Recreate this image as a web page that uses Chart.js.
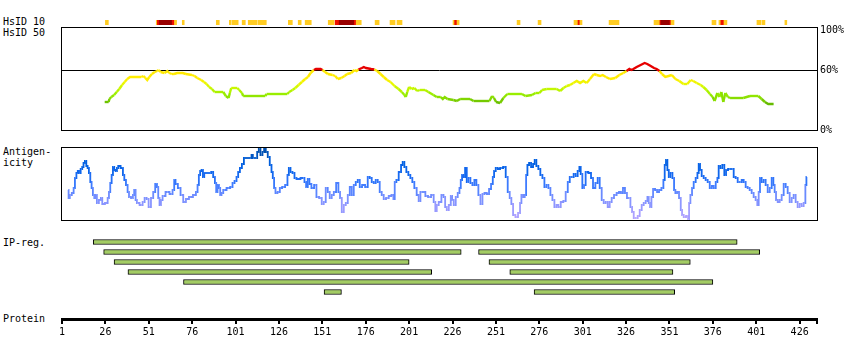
<!DOCTYPE html>
<html>
<head>
<meta charset="utf-8">
<script src="https://cdn.jsdelivr.net/npm/chart.js@4.4.1/dist/chart.umd.min.js"></script>
<style>
	body { margin: 0; background: #fff; }
	#wrap { position: relative; width: 850px; height: 360px; overflow: hidden; }
	canvas { position: absolute; left: 0; }
	.lbl { position: absolute; left: 3px; font: 10px "DejaVu Sans Mono", monospace; line-height: 12px; color: #000; white-space: pre; }
</style>
</head>
<body>
<div id="wrap">
	<div class="lbl" style="top:16px">HsID 10</div>
	<div class="lbl" style="top:27px">HsID 50</div>
	<div class="lbl" style="top:146px">Antigen-</div>
	<div class="lbl" style="top:157px">icity</div>
	<div class="lbl" style="top:237px">IP-reg.</div>
	<div class="lbl" style="top:313px">Protein</div>
	<canvas id="hs10" width="850" height="12" style="top:16px"></canvas>
	<canvas id="hs50" width="850" height="122" style="top:18px"></canvas>
	<canvas id="anti" width="850" height="88" style="top:140px"></canvas>
	<canvas id="ipreg" width="850" height="70" style="top:232px"></canvas>
	<canvas id="prot" width="850" height="50" style="top:290px"></canvas>
</div>
<script>
// protein residue range
const xMin = 1;
const xMax = 436;
const axisTicks = [1, 26, 51, 76, 101, 126, 151, 176, 201, 226, 251, 276, 301, 326, 351, 376, 401, 426];
const pctTicks = [0, 60, 100];
const threshold = 60;

// HsID 10 strip: residue ranges and level (1 = low, 2 = high, 3 = very high)
const hs10Start = [26, 55.3, 55.9, 57, 64.5, 65.8, 70.3, 89.9, 97.4, 99.1, 104.8, 108.3, 114.1, 131.4, 137.1, 141.1, 154.4, 158.4, 160.7, 169.4, 170.5, 181.4, 190, 194, 226.3, 227.2, 228.6, 263.2, 275.3, 296, 298.3, 299.4, 316.2, 342.1, 345.5, 346.1, 351.3, 351.9, 375.5, 379.5, 380.6, 382.4, 401.4, 404.3, 417.5];
const hs10End = [27.7, 55.9, 57, 64.5, 65.8, 67, 71.4, 91.6, 98.5, 102.5, 106.6, 113.5, 118.7, 133.7, 138.8, 144.6, 157.8, 160.7, 169.4, 170.5, 173.4, 183.7, 192.9, 196.9, 227.2, 228.6, 229.8, 264.9, 277, 298.3, 299.4, 300.6, 321.9, 345.5, 346.1, 351.3, 351.9, 353.6, 377.8, 380.6, 382.4, 384.1, 403.7, 406, 418.6];
const hs10Level = [1, 1, 2, 3, 2, 1, 1, 1, 1, 1, 1, 1, 1, 1, 1, 1, 1, 2, 3, 2, 1, 1, 1, 1, 1, 2, 1, 1, 1, 1, 2, 1, 1, 1, 2, 3, 2, 1, 1, 1, 2, 1, 1, 1, 1];

// HsID 50 identity (%)
const hs50Pos = [25.6, 27.9, 28.3, 29.4, 31, 32.5, 34, 35.6, 37.1, 38.6, 40.2, 46.7, 48, 49, 50.1, 51.3, 52.8, 54.4, 55.9, 56.7, 57.8, 60.1, 61.7, 62.8, 64.3, 65.5, 67.4, 70.5, 72.4, 75.9, 77.4, 78.9, 81.2, 82.8, 84.3, 85.8, 87.4, 88.9, 92.4, 93.9, 95.4, 97, 97.7, 98.5, 102, 103.1, 104.7, 105.4, 118.1, 118.9, 130.8, 131.9, 133.8, 135.4, 137.3, 139.2, 141.1, 142.7, 144.2, 146.1, 147.3, 150, 151.1, 152.6, 154.2, 156.9, 158.4, 159.9, 161.9, 163.8, 165.3, 167.6, 169.5, 170.7, 171.8, 173.8, 174.9, 176.1, 179.1, 181, 182.6, 184.5, 186.4, 188.3, 190.3, 192.6, 194.9, 196.8, 198.3, 199.1, 199.9, 201, 202.5, 204.1, 205.6, 207.1, 210.2, 212.1, 215, 216.9, 219.2, 220.4, 221.5, 223.1, 226.5, 228.5, 230.4, 236.1, 238.1, 247.3, 248.8, 249.9, 251.1, 253.4, 255.3, 257.6, 266, 268, 271.8, 273.8, 276.1, 277.6, 280.3, 286, 288, 289.9, 291.8, 293.7, 295.6, 297.6, 299.5, 301.4, 303.3, 305.2, 307.5, 309.1, 311, 312.5, 314.4, 316.7, 319.8, 322.1, 324.4, 326.3, 327.9, 329, 330.2, 332.1, 334.4, 336.7, 338.2, 340.2, 342.1, 343.6, 345.2, 346.7, 348.6, 350.5, 352.4, 354.4, 356.7, 359, 361.3, 363.2, 364.7, 366.7, 369, 370.5, 372.4, 374.3, 375.9, 377, 378.6, 379.7, 380.9, 382, 383.2, 384.7, 385.9, 393.5, 397.4, 402.2, 404.1, 406, 407.9, 411];
const hs50Val = [28, 28, 31, 33, 35, 38, 41, 45, 48, 51, 53, 53, 54, 52, 50, 53, 56, 58, 59, 60, 58, 57, 59, 57, 56, 56, 57, 57, 56, 55, 54, 52, 50, 48, 46, 43, 41, 38, 38, 38, 34, 32, 37, 42, 42, 40, 37, 34, 34, 36, 36, 38, 40, 42, 45, 48, 51, 53, 57, 60, 61, 61, 60, 58, 56, 55, 54, 51, 52, 54, 56, 57, 60, 59, 60.5, 62, 63, 62, 61, 60.5, 59, 56, 53, 50, 48, 44, 41, 38, 35, 33, 38, 43, 41, 42, 39, 40, 40, 38, 35, 33, 33, 31, 33, 31, 30, 29, 31, 31, 29, 29, 34, 32, 28, 27, 32, 36, 36, 34, 35, 37, 37, 40, 41, 41, 39, 42, 44, 45, 47, 49, 47, 49, 47, 51, 56, 55, 54, 55, 53, 51, 52, 55, 57, 59, 61, 60, 61, 63, 65, 67, 66, 64, 62, 61, 59, 56, 53, 54, 55, 51, 49, 46, 46, 50, 49, 47, 45, 43, 40, 36, 33, 29, 37, 33, 38, 28, 37, 33, 32, 32, 34, 34, 31, 28, 26, 26];

// antigenicity score
const antiPos = [4.6, 5, 6, 7.3, 8.1, 8.8, 9.8, 10.4, 11.2, 12.3, 13, 13.8, 14.6, 15.4, 16.1, 16.9, 17.7, 18.4, 19.2, 20, 20.7, 21.5, 23, 23.8, 24.6, 26.9, 27.7, 28.4, 29.2, 30, 30.7, 31.5, 32.3, 33, 33.8, 35.7, 36.5, 37.3, 38.4, 39.2, 40, 41.5, 42.2, 43, 43.8, 44.5, 46.9, 48, 49.2, 50.3, 51.5, 53, 54.1, 55.3, 56.1, 56.8, 57.6, 58.4, 59.5, 61.8, 64.1, 65.3, 66, 66.8, 68.7, 69.9, 71.8, 73, 75.3, 77.6, 78.7, 79.5, 80.2, 81, 81.8, 82.6, 83.3, 86.4, 87.5, 88.7, 89.5, 90.2, 91, 91.8, 92.5, 93.3, 94.5, 97.1, 98.7, 99.8, 101, 102.1, 102.9, 104.1, 105.2, 106.4, 108.7, 109.8, 110.6, 111.3, 112.9, 114, 114.8, 115.9, 117.1, 117.8, 119, 120.1, 121.3, 122.1, 122.8, 123.6, 124.4, 125.9, 127.1, 128.6, 130.5, 131.3, 132.1, 133.2, 134.4, 135.5, 136.7, 140.1, 141.3, 142, 143.2, 143.9, 145.5, 147, 148.2, 150.1, 151.2, 152.4, 153.5, 154.7, 155.8, 157, 158.2, 159.7, 160.8, 161.6, 162.8, 163.9, 165.1, 166.2, 167.4, 168.5, 169.7, 170.8, 172, 173.1, 174.7, 176.6, 177.7, 178.9, 180, 181.2, 182.3, 183.5, 184.6, 185.8, 186.9, 188.5, 190, 191.6, 192.3, 193.1, 194.2, 195.8, 196.9, 197.7, 198.8, 200, 201.1, 202.3, 203.4, 204.6, 206.1, 206.9, 208.1, 209.6, 211.1, 212.7, 214.6, 215.7, 216.5, 217.3, 218.8, 220.4, 221.2, 222.3, 223.1, 224.6, 225.4, 226.1, 227.3, 228.4, 229.6, 230.4, 231.1, 231.9, 232.7, 233.8, 234.6, 235.7, 236.9, 238, 239.2, 240.3, 241.5, 242.7, 243.8, 245, 246.5, 247.6, 248.8, 249.6, 250.3, 251.5, 252.6, 254.2, 256.1, 257.2, 258.4, 259.5, 260.3, 261.5, 263, 264.5, 265.3, 266.1, 267.2, 268, 268.8, 269.5, 270.7, 271.8, 273, 273.7, 274.9, 276, 277.2, 278.4, 279.5, 280.7, 281.8, 283, 284.1, 285.3, 286.4, 287.6, 289.1, 290.6, 291.8, 293, 294.1, 295.2, 296.4, 297.5, 298.7, 299.5, 300.2, 301.4, 302.1, 303.3, 305.2, 306.4, 307.5, 309.1, 310.2, 311.4, 312.5, 313.7, 314.8, 316, 317.1, 318.3, 319.8, 321.3, 322.5, 323.6, 324.8, 325.9, 327.1, 327.9, 329.1, 329.8, 331, 332.1, 333.3, 334.4, 335.6, 336.7, 337.9, 338.7, 339.4, 340.2, 341, 342.1, 343.3, 344.4, 345.6, 347.1, 347.9, 348.6, 349.4, 350.2, 351, 352.1, 353.3, 354, 354.8, 355.9, 357.1, 357.9, 358.6, 359.8, 361.3, 362.1, 362.5, 363.6, 364.4, 365.5, 366.7, 367.5, 368.2, 369, 370.1, 371.3, 372.4, 373.6, 374.8, 375.9, 377.1, 378.2, 379, 379.7, 380.9, 382, 383.2, 384, 385.5, 387.4, 388.6, 389.7, 390.9, 392, 393.2, 394.3, 395.5, 396.6, 397.8, 398.9, 400.1, 401.2, 402, 402.8, 403.5, 404.7, 405.8, 407, 408.2, 409.3, 410.5, 411.2, 412, 412.8, 413.9, 415.1, 416.2, 417.4, 418.5, 419.7, 420.8, 422, 423.1, 424.3, 425.4, 426.6, 427.7, 428.9, 429.7, 430.1];
const antiVal = [30, 22, 25, 27, 32, 42, 47, 49, 47, 51, 53, 57, 59, 54, 52, 47, 38, 32, 25, 22, 25, 17, 20, 22, 16, 17, 22, 28, 37, 45, 53, 50, 49, 52, 54, 52, 45, 40, 35, 28, 23, 22, 25, 30, 20, 17, 15, 18, 22, 21, 13, 22, 28, 36, 33, 22, 15, 20, 24, 28, 26, 30, 40, 36, 32, 25, 18, 21, 23, 25, 28, 35, 45, 49, 50, 43, 47, 47, 48, 43, 37, 28, 35, 32, 25, 27, 30, 32, 33, 37, 39, 43, 48, 52, 56, 62, 62, 62, 65, 62, 62, 68, 71, 65, 68, 71, 68, 63, 55, 48, 42, 32, 27, 28, 32, 33, 35, 45, 52, 48, 47, 42, 41, 42, 38, 33, 41, 36, 32, 35, 23, 22, 16, 18, 32, 28, 22, 25, 28, 37, 28, 22, 8, 15, 17, 25, 33, 25, 35, 38, 40, 33, 35, 33, 43, 42, 38, 37, 40, 38, 28, 25, 21, 22, 24, 25, 21, 38, 40, 48, 55, 58, 53, 48, 45, 42, 38, 32, 25, 19, 28, 28, 24, 23, 25, 18, 9, 15, 18, 25, 23, 13, 10, 15, 24, 20, 15, 23, 27, 32, 40, 45, 43, 52, 38, 42, 37, 35, 40, 35, 25, 16, 26, 27, 26, 31, 36, 43, 49, 52, 51, 52, 53, 43, 28, 22, 16, 5, 3, 7, 17, 25, 23, 25, 45, 55, 57, 53, 56, 60, 54, 51, 45, 42, 33, 35, 32, 25, 20, 13, 15, 13, 18, 19, 28, 38, 43, 43, 46, 44, 49, 53, 46, 32, 35, 48, 47, 42, 32, 37, 42, 32, 20, 17, 18, 13, 18, 22, 25, 27, 28, 27, 32, 27, 22, 22, 13, 8, 2, 2, 4, 10, 15, 17, 19, 23, 17, 13, 23, 31, 30, 28, 30, 32, 40, 55, 60, 50, 43, 47, 42, 30, 27, 28, 22, 10, 5, 3, 4, 1, 17, 25, 32, 38, 42, 47, 56, 50, 44, 42, 40, 38, 32, 34, 32, 38, 42, 54, 52, 55, 45, 50, 51, 51, 43, 42, 38, 38, 40, 38, 33, 32, 30, 27, 23, 20, 15, 28, 42, 38, 40, 35, 28, 32, 42, 35, 28, 20, 18, 20, 25, 36, 33, 27, 18, 22, 25, 18, 13, 16, 14, 17, 35, 43];
const antiMin = 0;
const antiMax = 72;

// IP regions: row, start and end residue
const ipRows = ["r1", "r2", "r3", "r4", "r5", "r6"];
const ipRow = ["r1", "r2", "r2", "r3", "r3", "r4", "r4", "r5", "r6", "r6"];
const ipStart = [19, 25, 241, 31, 247, 39, 259, 71, 152, 273];
const ipEnd = [390, 231, 403, 201, 363, 214, 353, 376, 162, 354];

Chart.defaults.font.family = "'DejaVu Sans Mono', monospace";
Chart.defaults.font.size = 10;
Chart.defaults.color = "#000";
Chart.defaults.animation = false;
Chart.defaults.responsive = false;
Chart.defaults.plugins.legend.display = false;
Chart.defaults.plugins.tooltip.enabled = false;

const levelCol = ["", "#ffcc22", "#ee1100", "#990000"];

const hexLerp = (stops, v) => {
	if (v <= stops[0][0]) { return stops[0][1]; }
	for (let i = 1; i < stops.length; i++) {
		if (v <= stops[i][0]) {
			let [v0, c0] = stops[i - 1];
			let [v1, c1] = stops[i];
			let t = (v - v0) / (v1 - v0);
			let a = [1, 3, 5].map(k => parseInt(c0.substr(k, 2), 16));
			let b = [1, 3, 5].map(k => parseInt(c1.substr(k, 2), 16));
			return "rgb(" + a.map((x, j) => Math.round(x + (b[j] - x) * t)).join(",") + ")";
		}
	}
	return stops[stops.length - 1][1];
};

const hsStops = [[27, "#66bb00"], [32, "#88dd00"], [36, "#99ee00"], [41, "#c4f700"], [46, "#e8f800"], [51, "#ffee00"], [59.9, "#ffe800"]];
const hsColor = v => v >= threshold ? "#e60000" : hexLerp(hsStops, v);

const antiStops = [[2, "#b4a4ff"], [15, "#9298ff"], [25, "#6e8cff"], [35, "#3f7cff"], [45, "#1468f0"], [58, "#0060e0"], [68, "#0050b0"]];
const antiColor = v => hexLerp(antiStops, v);

// thin box round the plot area
const frame = {
	id: "frame",
	afterDraw(chart) {
		let a = chart.chartArea;
		let c = chart.ctx;
		c.save();
		c.strokeStyle = "#000";
		c.lineWidth = 1;
		c.strokeRect(a.left - 0.5, a.top - 0.5, a.right - a.left + 1, a.bottom - a.top + 1);
		c.restore();
	}
};

const xHidden = { type: "linear", min: xMin, max: xMax, display: false };

// HsID 10 strip
new Chart(document.getElementById("hs10"), {
	type: "bar",
	data: {
		labels: ["s"],
		datasets: [{
			data: hs10Start.map((s, i) => ({ x: [s, hs10End[i]], y: "s" })),
			backgroundColor: hs10Level.map(l => levelCol[l]),
			borderWidth: 0,
			barPercentage: 1,
			categoryPercentage: 1
		}]
	},
	options: {
		indexAxis: "y",
		layout: { padding: { left: 62, right: 33, top: 4, bottom: 3 } },
		scales: {
			x: xHidden,
			y: { type: "category", display: false }
		}
	}
});

// HsID 50
new Chart(document.getElementById("hs50"), {
	type: "line",
	data: {
		datasets: [{
			data: hs50Pos.map((x, i) => ({ x: x, y: hs50Val[i] })),
			borderWidth: 2.4,
			pointRadius: 0,
			borderColor: "#99ee00",
			segment: {
				borderColor: ctx => hsColor((ctx.p0.parsed.y + ctx.p1.parsed.y) / 2)
			}
		}]
	},
	options: {
		layout: { padding: { left: 62, right: 0, top: 10, bottom: 10 } },
		scales: {
			x: xHidden,
			y: {
				type: "linear",
				position: "right",
				min: 0,
				max: 102,
				afterBuildTicks: s => { s.ticks = pctTicks.map(v => ({ value: v })); },
				afterFit: s => { s.width = 33; },
				ticks: { callback: v => v + "%", padding: 3, color: "#000" },
				grid: {
					drawTicks: false,
					lineWidth: 1,
					color: ctx => (ctx.tick && ctx.tick.value === threshold) ? "#000" : "rgba(0,0,0,0)"
				},
				border: { display: false }
			}
		}
	},
	plugins: [frame]
});

// antigenicity
new Chart(document.getElementById("anti"), {
	type: "line",
	data: {
		datasets: [{
			data: antiPos.map((x, i) => ({ x: x, y: antiVal[i] })),
			borderWidth: 1.8,
			pointRadius: 0,
			borderColor: "#3f7cff",
			stepped: "middle",
			segment: {
				borderColor: ctx => antiColor((ctx.p0.parsed.y + ctx.p1.parsed.y) / 2)
			}
		}]
	},
	options: {
		layout: { padding: { left: 62, right: 33, top: 8, bottom: 8 } },
		scales: {
			x: xHidden,
			y: { type: "linear", min: antiMin, max: antiMax, display: false }
		}
	},
	plugins: [frame]
});

// IP regions
new Chart(document.getElementById("ipreg"), {
	type: "bar",
	data: {
		labels: ipRows,
		datasets: [{
			data: ipStart.map((s, i) => ({ x: [s, ipEnd[i]], y: ipRow[i] })),
			backgroundColor: "#a3cc64",
			borderColor: "#000",
			borderWidth: 1,
			borderSkipped: false,
			barThickness: 5
		}]
	},
	options: {
		indexAxis: "y",
		layout: { padding: { left: 62, right: 33, top: 5, bottom: 5 } },
		scales: {
			x: xHidden,
			y: { type: "category", display: false }
		}
	}
});

// protein axis
new Chart(document.getElementById("prot"), {
	type: "scatter",
	data: { datasets: [] },
	options: {
		layout: { padding: { left: 62, right: 33, top: 0, bottom: 0 } },
		scales: {
			x: {
				type: "linear",
				position: "bottom",
				min: xMin,
				max: xMax,
				afterBuildTicks: s => { s.ticks = axisTicks.concat([xMax]).map(v => ({ value: v })); },
				afterFit: s => { s.height = 21; },
				ticks: {
					autoSkip: false,
					maxRotation: 0,
					padding: 2,
					color: "#000",
					callback: v => axisTicks.includes(v) ? String(v) : ""
				},
				grid: { drawOnChartArea: false, color: "#000", lineWidth: 2, tickLength: 5 },
				border: { color: "#000", width: 3 }
			},
			y: { display: false }
		}
	}
});
</script>
</body>
</html>
